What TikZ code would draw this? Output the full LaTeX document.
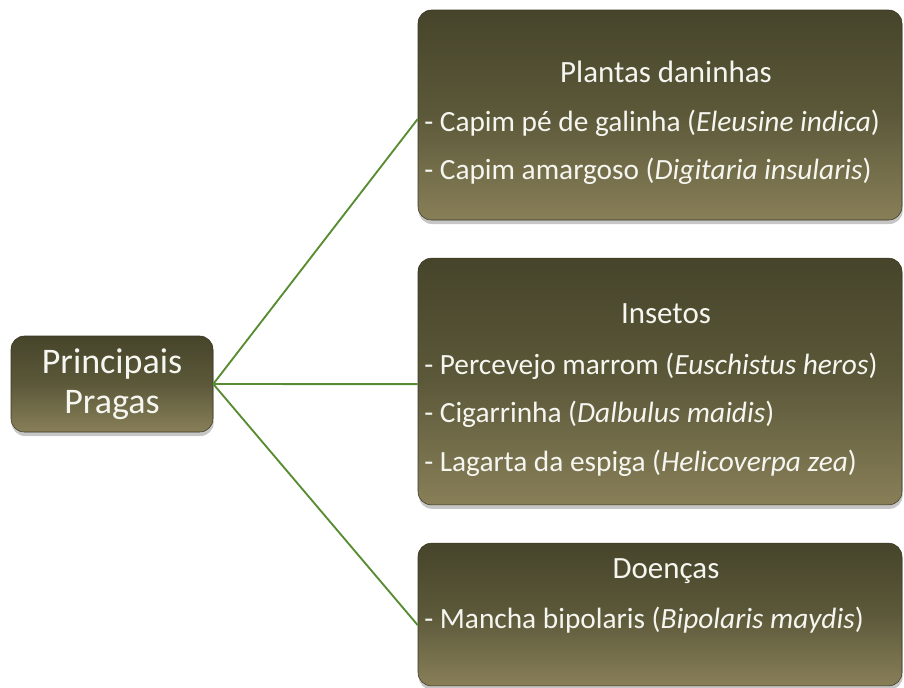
\documentclass[tikz,border=0pt]{standalone}
\usepackage{fontspec}
\setmainfont{Carlito}
\usetikzlibrary{shadows,positioning}

\definecolor{oliveTop}{RGB}{70,68,42}
\definecolor{oliveMid}{RGB}{92,89,58}
\definecolor{oliveBot}{RGB}{136,127,88}
\definecolor{oliveRim}{RGB}{58,56,34}
\definecolor{ramoVerde}{RGB}{88,140,50}
\definecolor{textoClaro}{RGB}{246,246,240}

\tikzset{
  caixa/.style={rectangle, rounded corners=10pt, draw=oliveRim, line width=0.4pt,
    top color=oliveTop, bottom color=oliveBot, middle color=oliveMid,
    drop shadow={shadow xshift=0.5pt, shadow yshift=-3pt, opacity=0.45}},
  titulo/.style={text=textoClaro, anchor=base, inner sep=0pt, font=\fontsize{23.2}{27}\selectfont},
  item/.style={text=textoClaro, anchor=base west, inner sep=0pt, font=\fontsize{22}{26}\selectfont},
  ramo/.style={draw=ramoVerde, line width=1.4pt}
}

\begin{document}
\begin{tikzpicture}[x=0.75pt,y=-0.75pt]

\useasboundingbox (0,0) rectangle (904,687);

% caixas
\node[caixa, minimum width=151.5pt, minimum height=72pt, align=center,
  text=textoClaro, font=\fontsize{27}{30}\selectfont] (principal) at (112,384) {Principais\\Pragas};
\node[caixa, minimum width=363pt, minimum height=157.5pt] (plantas) at (660,115) {};
\node[caixa, minimum width=363pt, minimum height=185pt] (insetos) at (660,381.5) {};
\node[caixa, minimum width=363pt, minimum height=107pt] (doencas) at (660,614.5) {};

% ramos
\draw[ramo] (principal.east) -- ([yshift=-3pt]plantas.west);
\draw[ramo] (principal.east) -- ([yshift=-2pt]insetos.west);
\draw[ramo] (principal.east) -- ([yshift=-8pt]doencas.west);

% plantas daninhas
\node[titulo] (t1) at (666,82) {Plantas daninhas};
\node[item] (p1) at (424,131) {- Capim pé de galinha (\textit{Eleusine indica})};
\node[item] (p2) at (424,179) {- Capim amargoso (\textit{Digitaria insularis})};

% insetos
\node[titulo] (t2) at (666,323) {Insetos};
\node[item] (i1) at (424,374) {- Percevejo marrom (\textit{Euschistus heros})};
\node[item] (i2) at (424,422) {- Cigarrinha (\textit{Dalbulus maidis})};
\node[item] (i3) at (424,471) {- Lagarta da espiga (\textit{Helicoverpa zea})};

% doencas
\node[titulo] (t3) at (666,578) {Doenças};
\node[item] (d1) at (424,628) {- Mancha bipolaris (\textit{Bipolaris maydis})};

\end{tikzpicture}
\end{document}
